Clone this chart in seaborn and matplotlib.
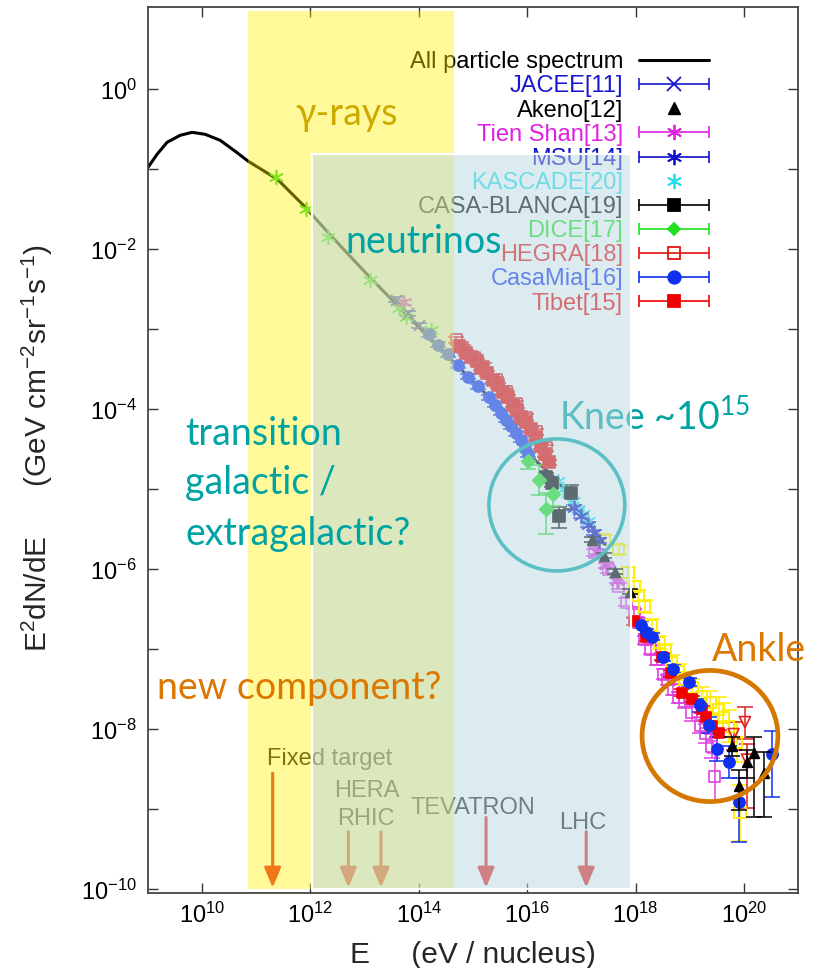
import numpy as np
import pandas as pd
import matplotlib
matplotlib.use("Agg")
import matplotlib.pyplot as plt
import seaborn as sns
from matplotlib.lines import Line2D
from matplotlib.collections import LineCollection
from matplotlib.container import ErrorbarContainer
from matplotlib.legend_handler import HandlerErrorbar
from matplotlib.patches import Rectangle, Ellipse
from matplotlib.ticker import FixedLocator, FuncFormatter, NullLocator

# ---------------- data: log10(E / eV) and log10(E^2 dN/dE) ----------------
spectrum_logE = [9.0, 9.167, 9.352, 9.593, 9.815, 10.056, 10.333, 10.611, 10.852, 11.39, 11.907,
                 12.37, 13.11, 13.98, 14.72, 15.30, 16.02, 16.5, 17.0, 17.43]
spectrum_logY = [-0.975, -0.8125, -0.6625, -0.575, -0.5375, -0.5625, -0.6375, -0.775, -0.9, -1.125,
                 -1.475, -1.825, -2.36, -2.96, -3.46, -3.85, -4.56, -4.85, -5.29, -5.69]

jacee_logE = [13.57, 13.80, 14.0]
jacee_logY = [-2.63, -2.80, -2.95]

akeno_logE = [17.19, 17.41, 17.63, 17.89, 19.78, 19.91, 20.06, 20.19, 20.37]
akeno_logY = [-5.63, -5.83, -6.03, -6.28, -8.21, -8.71, -8.41, -8.29, -8.54]
akeno_errlo = [0.03, 0.03, 0.03, 0.03, 0.12, 0.30, 0.20, 0.80, 0.55]
akeno_errhi = [0.03, 0.03, 0.03, 0.03, 0.12, 0.20, 0.15, 0.19, 0.26]

tienshan_logE = [13.72, 17.28, 17.46, 17.65]
tienshan_logY = [-2.66, -5.78, -5.95, -6.14]

msu_logE = [16.87, 17.0, 17.13, 17.24, 17.33]
msu_logY = [-5.23, -5.33, -5.44, -5.54, -5.64]

kascade_logE = [16.57, 16.67, 16.76, 16.85, 16.94, 17.04, 17.13]
kascade_logY = [-4.90, -4.99, -5.06, -5.15, -5.24, -5.31, -5.39]

casab_logE = [16.35, 16.46, 16.59, 16.81]
casab_logY = [-4.85, -4.92, -5.33, -5.05]
casab_errlo = [0.05, 0.05, 0.15, 0.20]
casab_errhi = [0.05, 0.05, 0.11, 0.11]

dice_logE = [16.02, 16.22, 16.35, 16.48]
dice_logY = [-4.65, -4.88, -5.25, -5.06]
dice_errlo = [0.10, 0.19, 0.31, 0.15]
dice_errhi = [0.10, 0.19, 0.21, 0.15]

hegra_logE = [14.69, 14.81, 15.02, 15.20, 15.43, 15.61, 15.80, 15.98, 16.17, 16.35]
hegra_logY = [-3.13, -3.23, -3.35, -3.46, -3.63, -3.78, -3.93, -4.10, -4.28, -4.48]

casamia_logE = [14.19, 14.35, 14.54, 14.72, 14.91, 15.09, 15.30, 15.41, 15.52, 15.61, 15.70, 15.80, 15.89, 15.96, 16.02]
casamia_logY = [-3.06, -3.19, -3.31, -3.45, -3.59, -3.71, -3.85, -3.94, -4.04, -4.13, -4.21, -4.30, -4.38, -4.48, -4.56]

tibet_logE = [14.74, 14.87, 14.96, 15.07, 15.15, 15.26, 15.37, 15.46, 15.56, 15.65, 15.74, 15.81, 15.89, 15.98, 16.07, 16.17, 16.26, 16.33, 16.41]
tibet_logY = [-3.21, -3.29, -3.34, -3.40, -3.48, -3.55, -3.63, -3.70, -3.78, -3.85, -3.94, -4.01, -4.09, -4.16, -4.25, -4.35, -4.46, -4.56, -4.66]

# other (unlabelled) data sets
direct_logE = [11.37, 11.91, 12.33, 13.09, 13.63, 13.76, 14.22]
direct_logY = [-1.10, -1.50, -1.85, -2.38, -2.73, -2.85, -3.01]

magenta_logE = [17.24, 17.50, 17.69, 17.83, 17.98, 18.05, 18.17, 18.28, 18.39, 18.52, 18.60, 18.70,
                18.80, 18.91, 19.04, 19.20, 19.30, 19.41, 19.46]
magenta_logY = [-5.79, -6.0, -6.21, -6.41, -6.54, -6.66, -6.88, -7.0, -7.13, -7.31, -7.38, -7.5,
                -7.6, -7.65, -7.79, -7.95, -8.05, -8.21, -8.59]
magenta_err = [0.04, 0.04, 0.04, 0.05, 0.05, 0.05, 0.05, 0.06, 0.06, 0.06, 0.06, 0.07,
               0.07, 0.08, 0.10, 0.10, 0.12, 0.15, 0.30]

yellow_logE = [17.43, 17.69, 17.87, 17.98, 18.05, 18.17, 18.30, 18.44, 18.55, 18.67, 18.80, 18.91,
               19.05, 19.22, 19.38, 19.54, 19.62, 19.72, 19.87, 19.93]
yellow_logY = [-5.63, -5.75, -6.04, -6.21, -6.33, -6.46, -6.70, -6.91, -7.02, -7.16, -7.28, -7.38,
               -7.48, -7.59, -7.66, -7.75, -7.85, -7.96, -8.16, -9.04]
yellow_err = [0.06, 0.06, 0.07, 0.07, 0.07, 0.08, 0.08, 0.08, 0.09, 0.09, 0.10, 0.10,
              0.11, 0.12, 0.14, 0.15, 0.18, 0.20, 0.25, 0.35]

blue_logE = [18.11, 18.20, 18.30, 18.50, 18.70, 18.98, 19.20, 19.35, 19.50, 19.72, 19.91, 20.52]
blue_logY = [-6.69, -6.78, -6.84, -7.10, -7.25, -7.41, -7.70, -7.95, -8.25, -8.41, -8.91, -8.31]
blue_errlo = [0.04, 0.04, 0.04, 0.04, 0.05, 0.05, 0.08, 0.10, 0.15, 0.20, 0.50, 0.53]
blue_errhi = [0.04, 0.04, 0.04, 0.04, 0.05, 0.05, 0.08, 0.10, 0.15, 0.20, 0.30, 0.29]

red_logE = [17.98, 18.20, 18.48, 18.65, 18.85, 19.05, 19.22, 19.30, 19.41, 19.55]
red_logY = [-6.65, -6.85, -7.09, -7.30, -7.54, -7.62, -7.75, -7.85, -7.96, -8.05]

hires_logE = [19.81, 20.02, 20.06]
hires_logY = [-8.06, -7.91, -8.38]
hires_errlo = [0.20, 0.21, 0.60]
hires_errhi = [0.15, 0.19, 0.20]

# accelerator equivalent energies
accel_E = [2.0e11, 5.0e12, 2.0e13, 1.74e15, 1.23e17]
accel_names = ["Fixed target", "HERA", "RHIC", "TEVATRON", "LHC"]

legend_labels = ["All particle spectrum", "JACEE[11]", "Akeno[12]", "Tien Shan[13]", "MSU[14]",
                 "KASCADE[20]", "CASA-BLANCA[19]", "DICE[17]", "HEGRA[18]", "CasaMia[16]", "Tibet[15]"]
legend_colors = ["black", "#1818D0", "black", "#E020E0", "#1010C8", "#23E0EB", "black",
                 "#20E020", "#E81010", "#1030F0", "#F00000"]

# ---------------- style ----------------
sns.set_theme(style="ticks")
plt.rcParams["font.family"] = ["Liberation Sans", "DejaVu Sans"]
plt.rcParams["mathtext.default"] = "regular"
ANN = ["Lato", "DejaVu Sans"]

fig = plt.figure(figsize=(8.31, 9.68), dpi=100)
ax = fig.add_axes([148 / 831, 1 - 893 / 968, 650 / 831, 886 / 968])
ax.set_xscale("log")
ax.set_yscale("log")

# all particle spectrum
spec = pd.DataFrame({"E": 10 ** np.array(spectrum_logE), "flux": 10 ** np.array(spectrum_logY)})
sns.lineplot(data=spec, x="E", y="flux", ax=ax, color="black", linewidth=2.2, sort=False,
             legend=False, zorder=2)


def series(logE, logY, color, marker, filled=True, ms=7.5, errlo=None, errhi=None, z=3, lw=1.2):
    lE = np.asarray(logE, float)
    lY = np.asarray(logY, float)
    E = 10 ** lE
    Y = 10 ** lY
    if errlo is not None:
        errhi = errlo if errhi is None else errhi
        lo = Y - 10 ** (lY - np.asarray(errlo))
        hi = 10 ** (lY + np.asarray(errhi)) - Y
        ax.errorbar(E, Y, yerr=[lo, hi], fmt="none", ecolor=color, elinewidth=1.1,
                    capsize=6, capthick=1.1, zorder=z)
    df = pd.DataFrame({"E": E, "flux": Y})
    kw = dict(data=df, x="E", y="flux", ax=ax, marker=marker, s=ms ** 2, legend=False,
              zorder=z + 0.1, linewidth=lw)
    if filled == "line":
        sns.scatterplot(color=color, **kw)
    elif filled:
        sns.scatterplot(color=color, edgecolor=color, **kw)
    else:
        sns.scatterplot(color=color, facecolor="none", edgecolor=color, **kw)


AST = (6, 2, 0)
series(direct_logE, direct_logY, "#30E030", AST, filled="line", ms=10)
series(jacee_logE, jacee_logY, "#1818D0", "x", filled="line", ms=8, errlo=[0.03] * 3)
series(tienshan_logE, tienshan_logY, "#E020E0", AST, filled="line", ms=10, errlo=[0.03] * 4)
series(casamia_logE, casamia_logY, "#1030F0", "o", ms=8, errlo=[0.03] * len(casamia_logE))
series(tibet_logE, tibet_logY, "#F00000", "s", ms=8, errlo=[0.03] * len(tibet_logE))
series(hegra_logE, hegra_logY, "#E81010", "s", filled=False, ms=8, errlo=[0.04] * len(hegra_logE))
series(magenta_logE, magenta_logY, "#E040E0", "s", filled=False, ms=8, errlo=magenta_err)
series(yellow_logE, yellow_logY, "#FFEE00", "s", filled=False, ms=8, errlo=yellow_err, lw=1.4)
series(red_logE, red_logY, "#F00000", "s", ms=7.5, errlo=[0.04] * len(red_logE))
series(blue_logE, blue_logY, "#1030F0", "o", ms=8, errlo=blue_errlo, errhi=blue_errhi)
series(hires_logE, hires_logY, "#E02020", "v", filled=False, ms=8, errlo=hires_errlo, errhi=hires_errhi)
series(kascade_logE, kascade_logY, "#23E0EB", AST, filled="line", ms=10)
series(msu_logE, msu_logY, "#1010C8", AST, filled="line", ms=10, errlo=[0.03] * len(msu_logE))
series(casab_logE, casab_logY, "black", "s", ms=9, errlo=casab_errlo, errhi=casab_errhi)
series(dice_logE, dice_logY, "#20E020", "D", ms=7, errlo=dice_errlo, errhi=dice_errhi)
series(akeno_logE, akeno_logY, "black", "^", ms=7, errlo=akeno_errlo, errhi=akeno_errhi, z=4)

# ---------------- axes ----------------
ax.set_xlim(1e9, 1e21)
ax.set_ylim(10 ** -10.046, 10 ** 1.029)
ax.set_xlabel("")
ax.set_ylabel("")
ax.xaxis.set_major_locator(FixedLocator([10.0 ** k for k in range(10, 21, 2)]))
ax.xaxis.set_minor_locator(NullLocator())
ax.xaxis.set_major_formatter(FuncFormatter(lambda v, p: r"$10^{%d}$" % int(round(np.log10(v)))))
ax.yaxis.set_major_locator(FixedLocator([10.0 ** k for k in range(-10, 1)]))
ax.yaxis.set_minor_locator(NullLocator())
ax.yaxis.set_major_formatter(FuncFormatter(
    lambda v, p: (lambda k: r"$10^{%d}$" % k if k % 2 == 0 else "")(int(round(np.log10(v))))))
ax.tick_params(which="major", direction="in", length=7.5, width=1.0, color="#333333",
               top=True, right=True, labelsize=17, labelcolor="black")
ax.tick_params(axis="x", pad=7)
ax.tick_params(axis="y", pad=8)
for s in ax.spines.values():
    s.set_color("#444444")
    s.set_linewidth(1.3)

fig.text(37 / 831, 1 - 448 / 968, "E$^2$dN/dE      (GeV cm$^{-2}$sr$^{-1}$s$^{-1}$)",
         rotation=90, ha="center", va="center", fontsize=21.5)
fig.text(472.5 / 831, 1 - 963 / 968, "E     (eV / nucleus)", ha="center", va="baseline", fontsize=21.5)

# ---------------- legend ----------------
def eb_proxy(color, marker, mfc, ms):
    pl = Line2D([], [], linestyle="none", marker=marker, color=color, markerfacecolor=mfc,
                markeredgecolor=color, markersize=ms, markeredgewidth=1.3)
    cap = Line2D([], [], linestyle="none", marker="|", color=color, markersize=8, markeredgewidth=1.2)
    bar = LineCollection([], colors=[color], linewidths=1.2)
    return ErrorbarContainer((pl, (cap, cap), (bar,)), has_xerr=True, has_yerr=False)

handles = [
    Line2D([], [], color="black", lw=2.2),
    eb_proxy("#1818D0", "x", "none", 10),
    Line2D([], [], linestyle="none", marker="^", color="black", markersize=8),
    eb_proxy("#E020E0", AST, "none", 11),
    eb_proxy("#1010C8", AST, "none", 11),
    Line2D([], [], linestyle="none", marker=AST, color="#23E0EB", markersize=11, markeredgewidth=1.3),
    eb_proxy("black", "s", "black", 9),
    eb_proxy("#20E020", "D", "#20E020", 6),
    eb_proxy("#E81010", "s", "none", 9),
    eb_proxy("#1030F0", "o", "#1030F0", 9),
    eb_proxy("#F00000", "s", "#F00000", 9),
]
FS_LEG = 17
leg = ax.legend(handles, legend_labels, loc="upper right", bbox_to_anchor=(0.863, 0.950),
                frameon=False, markerfirst=False, fontsize=FS_LEG, handlelength=50.4 / FS_LEG,
                handletextpad=11.5 / FS_LEG, labelspacing=0.09, borderpad=0, borderaxespad=0,
                labelcolor=legend_colors,
                handler_map={ErrorbarContainer: HandlerErrorbar(xerr_size=25.2 / FS_LEG)})
leg.set_zorder(6)

# ---------------- accelerator arrows (under the overlays) ----------------
arrow_top = [10 ** -8.55, 10 ** -9.28, 10 ** -9.28, 10 ** -9.10, 10 ** -9.28]
arrow_bottom = 10 ** -9.98
for E, top in zip(accel_E, arrow_top):
    ax.annotate("", xy=(E, arrow_bottom), xytext=(E, top),
                arrowprops=dict(arrowstyle="-|>,head_length=0.6,head_width=0.25", color="#E62828",
                                lw=2.2, shrinkA=0, shrinkB=0, mutation_scale=20), zorder=5)
LBL = dict(fontsize=17, color="#222222", va="baseline", zorder=5)
ax.text(10 ** 11.20, 10 ** -8.44, accel_names[0], ha="left", **LBL)
ax.text(10 ** 13.04, 10 ** -8.84, accel_names[1], ha="center", **LBL)
ax.text(10 ** 13.02, 10 ** -9.19, accel_names[2], ha="center", **LBL)
ax.text(10 ** 15.0, 10 ** -9.06, accel_names[3], ha="center", **LBL)
ax.text(10 ** 17.02, 10 ** -9.24, accel_names[4], ha="center", **LBL)

# knee (under overlay)
TEAL = "#00A3A3"
ax.add_patch(Ellipse((0.629, 0.438), 0.209, 0.149, transform=ax.transAxes, fill=False,
                     edgecolor="#00A5A5", lw=2.6, zorder=6))
ax.text(10 ** 16.59, 10 ** -4.25, r"Knee ~10$^{15}$", fontsize=27, color=TEAL, family=ANN,
        ha="left", va="baseline", zorder=6)

# ---------------- translucent overlays ----------------
band_bottom = 10 ** -9.99
gamma_band = (10 ** 10.852, 10 ** 14.648, 10 ** 0.975)
nu_band = (10 ** 12.019, 10 ** 17.926, 10 ** -0.8125)
ax.add_patch(Rectangle((gamma_band[0], band_bottom), gamma_band[1] - gamma_band[0],
                       gamma_band[2] - band_bottom, facecolor=(1.0, 0.94, 0.0), alpha=0.4,
                       edgecolor="none", zorder=10))
ax.add_patch(Rectangle((nu_band[0], band_bottom), nu_band[1] - nu_band[0],
                       nu_band[2] - band_bottom, facecolor="#B9D9E1", alpha=0.5,
                       edgecolor="none", zorder=11))
ax.add_patch(Rectangle((nu_band[0], band_bottom), nu_band[1] - nu_band[0],
                       nu_band[2] - band_bottom, fill=False, edgecolor="white", lw=1.6, zorder=12))

# ---------------- annotations on top ----------------
ORANGE = "#DC7800"
ax.text(10 ** 11.72, 10 ** -0.44, "γ-rays", fontsize=27, color="#CCAA00", family=ANN,
        ha="left", va="baseline", zorder=13)
ax.text(10 ** 12.65, 10 ** -2.04, "neutrinos", fontsize=27, color=TEAL, family=ANN,
        ha="left", va="baseline", zorder=13)
for txt, ly in zip(["transition", "galactic /", "extragalactic?"], [-4.44, -5.06, -5.69]):
    ax.text(10 ** 9.685, 10 ** ly, txt, fontsize=27, color=TEAL, family=ANN,
            ha="left", va="baseline", zorder=13)
ax.text(10 ** 9.167, 10 ** -7.625, "new component?", fontsize=27, color=ORANGE, family=ANN,
        ha="left", va="baseline", zorder=13)
ax.text(10 ** 19.41, 10 ** -7.15, "Ankle", fontsize=27, color=ORANGE, family=ANN,
        ha="left", va="baseline", zorder=13)
ax.add_patch(Ellipse((0.8646, 0.1772), 0.209, 0.148, transform=ax.transAxes, fill=False,
                     edgecolor="#D47800", lw=3.4, zorder=13, clip_on=False))

fig.savefig("out.png", dpi=100)
